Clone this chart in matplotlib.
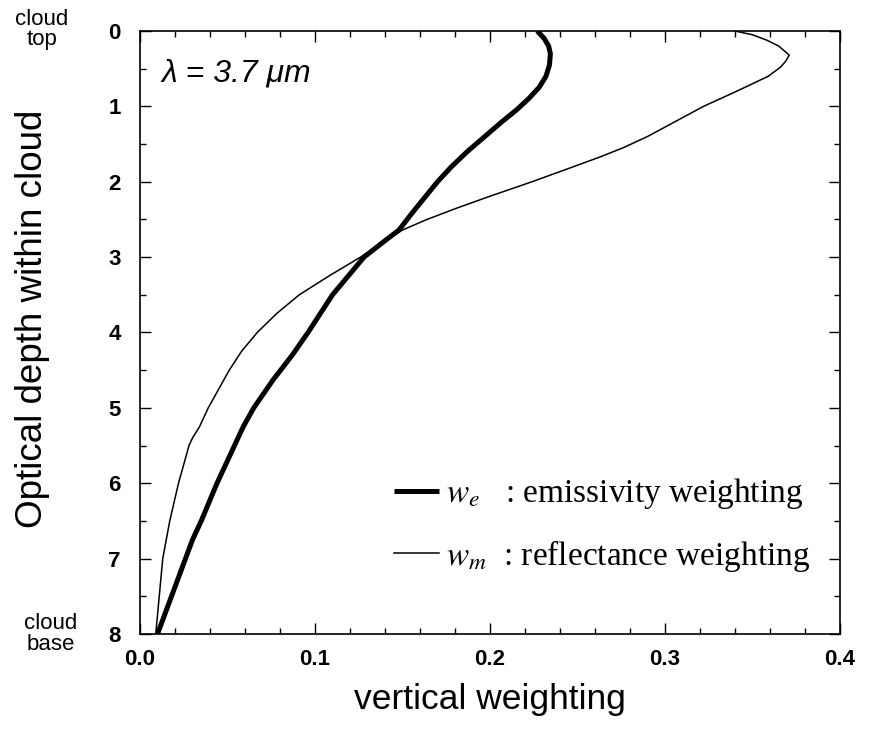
import numpy as np
import matplotlib
matplotlib.use('Agg')
import matplotlib.pyplot as plt
from matplotlib.ticker import MultipleLocator
import matplotlib.transforms as mtransforms

plt.rcParams['font.family'] = ['Liberation Sans', 'DejaVu Sans']
plt.rcParams['mathtext.fontset'] = 'stix'

# emissivity weighting w_e (thick curve)
depth_e = [0.0, 0.1, 0.2, 0.3, 0.45, 0.6, 0.75, 0.9, 1.05, 1.2, 1.4, 1.6, 1.8,
           2.0, 2.2, 2.4, 2.64, 2.8, 3.0, 3.25, 3.5, 3.75, 4.0, 4.3, 4.63, 5.0,
           5.25, 5.5, 5.75, 6.0, 6.25, 6.5, 6.75, 7.0, 7.5, 8.0]
w_e = [0.227, 0.231, 0.2335, 0.2345, 0.234, 0.232, 0.228, 0.222, 0.215, 0.207,
       0.197, 0.187, 0.178, 0.170, 0.163, 0.156, 0.148, 0.139, 0.128, 0.119,
       0.110, 0.103, 0.096, 0.087, 0.076, 0.065, 0.059, 0.054, 0.049, 0.044,
       0.0395, 0.035, 0.030, 0.026, 0.018, 0.010]

# reflectance weighting w_m (thin curve)
depth_m = [0.0, 0.05, 0.12, 0.2, 0.32, 0.4, 0.48, 0.6, 0.7, 0.82, 1.0, 1.2,
           1.4, 1.55, 1.67, 1.84, 2.0, 2.2, 2.35, 2.5, 2.64, 2.8, 3.0, 3.25,
           3.5, 3.75, 4.0, 4.25, 4.5, 4.75, 5.0, 5.25, 5.4, 5.5, 5.75, 6.0,
           6.5, 7.0, 7.5, 8.0]
w_m = [0.340, 0.350, 0.358, 0.365, 0.371, 0.369, 0.366, 0.359, 0.350, 0.339,
       0.322, 0.306, 0.290, 0.276, 0.263, 0.243, 0.224, 0.199, 0.181, 0.164,
       0.150, 0.139, 0.126, 0.108, 0.091, 0.078, 0.067, 0.058, 0.051, 0.045,
       0.039, 0.034, 0.030, 0.028, 0.025, 0.022, 0.017, 0.013, 0.011, 0.009]

fig = plt.figure(figsize=(8.72, 7.37), dpi=100)
ax = fig.add_axes([140/872, 1 - 634/737, 700/872, 603/737])

ax.plot(w_e, depth_e, color='black', lw=3.6, solid_capstyle='butt',
        solid_joinstyle='round', label=r'$w_e$   : emissivity weighting')
ax.plot(w_m, depth_m, color='black', lw=1.1, solid_joinstyle='round',
        label=r'$w_m$  : reflectance weighting')

ax.set_xlim(0, 0.4)
ax.set_ylim(8, 0)

ax.xaxis.set_major_locator(MultipleLocator(0.1))
ax.xaxis.set_minor_locator(MultipleLocator(0.02))
ax.yaxis.set_major_locator(MultipleLocator(1))
ax.yaxis.set_minor_locator(MultipleLocator(0.5))
ax.xaxis.set_major_formatter(plt.FuncFormatter(lambda v, p: f'{v:.1f}'))

ax.tick_params(which='both', direction='in', top=True, right=True, width=1.0)
ax.tick_params(which='major', length=8, labelsize=16)
ax.tick_params(axis='x', which='major', pad=11)
ax.tick_params(axis='y', which='major', pad=14)
ax.tick_params(which='minor', length=4)
for lab in ax.get_xticklabels() + ax.get_yticklabels():
    lab.set_fontweight('bold')
for sp in ax.spines.values():
    sp.set_linewidth(1.2)

ax.set_xlabel('vertical weighting', fontsize=25.5, labelpad=9)
ax.set_ylabel('Optical depth within cloud', fontsize=26.5)
ax.yaxis.set_label_coords(-0.129, 0.522)

trans = mtransforms.blended_transform_factory(ax.transAxes, ax.transData)
ax.text(-0.14, -0.02, 'cloud\ntop', transform=trans, ha='center', va='center',
        fontsize=16, linespacing=0.95)
ax.text(-0.128, 8.0, 'cloud\nbase', transform=trans, ha='center', va='center',
        fontsize=16, linespacing=0.95)

ax.text(0.03, 0.93, 'λ = 3.7 μm', transform=ax.transAxes, ha='left', va='center',
        fontsize=23, style='italic')

leg = ax.legend(loc='lower right', bbox_to_anchor=(1.0, 0.05), frameon=False,
                prop={'family': 'Liberation Serif', 'size': 24},
                handlelength=1.35, handletextpad=0.2, labelspacing=0.8)

fig.savefig('out.png', dpi=100)
